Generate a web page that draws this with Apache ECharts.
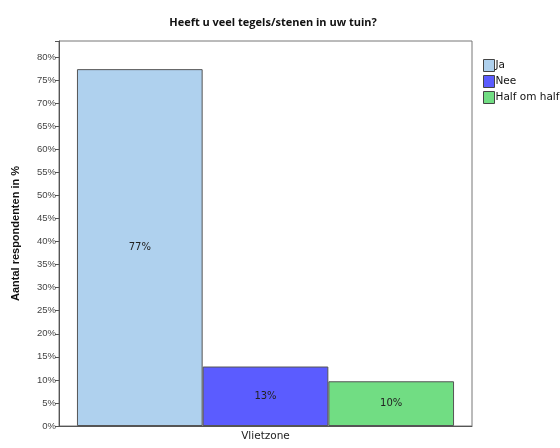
<!DOCTYPE html>
<html><head><meta charset="utf-8">
<script src="https://cdn.jsdelivr.net/npm/echarts@6/dist/echarts.min.js"></script>
<style>html,body{margin:0;padding:0;background:#fff}#c{width:560px;height:448px}</style>
</head><body><div id="c"></div>
<script>
const categories = ['Vlietzone'];
const seriesNames = ['Ja', 'Nee', 'Half om half'];
const seriesValues = [[77.4], [12.9], [9.7]];
const seriesColors = ['#afd1ee', '#5b5cff', '#71dd83'];
const yTicks = [0,5,10,15,20,25,30,35,40,45,50,55,60,65,70,75,80];

const chart = echarts.init(document.getElementById('c'));
chart.setOption({
  animation: false,
  backgroundColor: '#fff',
  title: {
    text: 'Heeft u veel tegels/stenen in uw tuin?',
    left: 268, top: 12, textAlign: 'center',
    textStyle: {fontFamily: 'Open Sans', fontSize: 11, fontWeight: 'bold', color: '#111'}
  },
  legend: {
    orient: 'vertical', left: 478, top: 54,
    itemWidth: 11, itemHeight: 12, itemGap: 3,
    icon: 'rect',
    textStyle: {fontFamily: 'DejaVu Sans', fontSize: 10.5, color: '#111', padding: [0,0,0,-4]},
    data: seriesNames.map((n, i) => ({name: n, itemStyle: {color: seriesColors[i], borderColor: '#444', borderWidth: 1}}))
  },
  grid: {left: 59, right: 88, top: 41, bottom: 22, show: true, borderColor: '#777', borderWidth: 1},
  xAxis: {
    type: 'category', data: categories,
    axisLine: {lineStyle: {color: '#555'}},
    axisTick: {alignWithLabel: true, length: 6, lineStyle: {color: '#555'}},
    axisLabel: {fontFamily: 'DejaVu Sans', fontSize: 10.5, color: '#222', margin: 5}
  },
  yAxis: {
    type: 'value', min: 0, max: 83.5, interval: 5,
    name: 'Aantal respondenten in %', nameLocation: 'middle', nameGap: 38,
    nameTextStyle: {fontFamily: 'Liberation Sans', fontSize: 11, fontWeight: 'bold', color: '#111'},
    splitLine: {show: false},
    axisLine: {show: true, lineStyle: {color: '#555'}},
    axisTick: {show: true, length: 4, lineStyle: {color: '#555'}},
    axisLabel: {fontFamily: 'Liberation Sans', fontSize: 9.5, color: '#444', margin: 3,
      formatter: v => yTicks.includes(Math.round(v)) && Math.abs(v - Math.round(v)) < 1e-6 ? v + '%' : ''}
  },
  series: seriesNames.map((n, i) => ({
    name: n, type: 'bar', data: seriesValues[i],
    barGap: '0%', barCategoryGap: '8.7%',
    itemStyle: {color: seriesColors[i], borderColor: '#555', borderWidth: 1},
    label: {show: true, position: 'inside', fontFamily: 'DejaVu Sans', fontSize: 10, color: '#222',
      formatter: p => Math.round(p.value) + '%'}
  }))
});
</script></body></html>
